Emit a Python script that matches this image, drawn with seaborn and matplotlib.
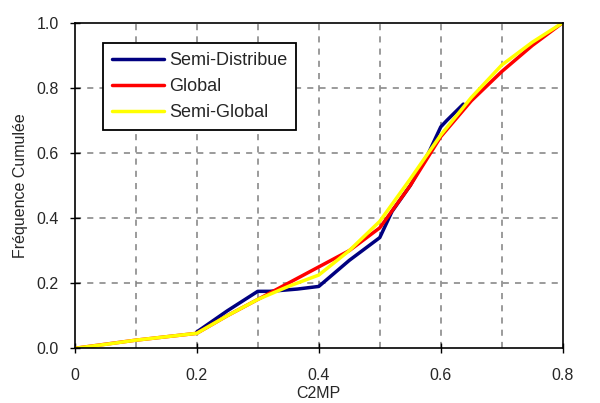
import matplotlib
matplotlib.use("Agg")
import matplotlib.pyplot as plt
import seaborn as sns
import pandas as pd

# values
x_semi_dist = [0.2, 0.25, 0.3, 0.32, 0.365, 0.4, 0.45, 0.5, 0.52, 0.55, 0.58, 0.6, 0.61, 0.637]
y_semi_dist = [0.05, 0.115, 0.175, 0.175, 0.182, 0.19, 0.27, 0.34, 0.42, 0.5, 0.6, 0.68, 0.7, 0.75]

x_global = [0.0, 0.1, 0.2, 0.25, 0.3, 0.35, 0.4, 0.45, 0.5, 0.55, 0.6, 0.65, 0.7, 0.75, 0.8]
y_global = [0.0, 0.025, 0.046, 0.1, 0.15, 0.2, 0.25, 0.3, 0.37, 0.5, 0.65, 0.76, 0.85, 0.93, 1.0]

x_semi_glob = [0.0, 0.05, 0.1, 0.2, 0.25, 0.3, 0.35, 0.4, 0.45, 0.5, 0.55, 0.6, 0.65, 0.7, 0.75, 0.8]
y_semi_glob = [0.0, 0.012, 0.025, 0.046, 0.1, 0.15, 0.19, 0.225, 0.3, 0.39, 0.52, 0.655, 0.77, 0.87, 0.94, 1.0]

x_ticks = [0, 0.2, 0.4, 0.6, 0.8]
x_labels = ["0", "0.2", "0.4", "0.6", "0.8"]
y_ticks = [0.0, 0.2, 0.4, 0.6, 0.8, 1.0]
y_labels = ["0.0", "0.2", "0.4", "0.6", "0.8", "1.0"]

sns.set_style("white")
plt.rcParams['font.family'] = ['Liberation Sans', 'DejaVu Sans']

fig = plt.figure(figsize=(6, 4.03), dpi=100)
ax = fig.add_axes([0.1245, 0.1357, 0.8135, 0.808])

# grid first so lines sit on top
for gx in [0.1, 0.2, 0.3, 0.4, 0.5, 0.6, 0.7]:
    ax.axvline(gx, color="#808080", lw=1.1, ls=(0, (4, 4)), zorder=0)
for gy in [0.2, 0.4, 0.6, 0.8]:
    ax.axhline(gy, color="#808080", lw=1.1, ls=(0, (4, 4)), zorder=0)

sns.lineplot(x=x_semi_dist, y=y_semi_dist, ax=ax, color="#000080", lw=2.5,
             label="Semi-Distribue", sort=False)
sns.lineplot(x=x_global, y=y_global, ax=ax, color="#ff0000", lw=2.5,
             label="Global", sort=False)
sns.lineplot(x=x_semi_glob, y=y_semi_glob, ax=ax, color="#ffff00", lw=2.5,
             label="Semi-Global", sort=False)

ax.set_xlim(0, 0.8)
ax.set_ylim(0, 1.0)
ax.set_xticks(x_ticks)
ax.set_xticklabels(x_labels)
ax.set_yticks(y_ticks)
ax.set_yticklabels(y_labels)
ax.tick_params(axis="both", direction="inout", length=7, width=1, color="black",
               labelsize=11.5, bottom=True, left=True)
ax.tick_params(axis="x", pad=11)
ax.tick_params(axis="y", pad=8)
ax.set_xlabel("C2MP", fontsize=11.5, labelpad=2)
ax.set_ylabel("Fréquence Cumulée", fontsize=11.5, labelpad=6)

for s in ax.spines.values():
    s.set_color("black")
    s.set_linewidth(1.2)
    s.set_visible(True)

leg = ax.legend(loc="upper left", bbox_to_anchor=(0.058, 0.938), borderaxespad=0,
                fontsize=13, frameon=True, fancybox=False, edgecolor="black",
                handlelength=2.9, handletextpad=0.25, labelspacing=0.5,
                borderpad=0.5)
leg.get_frame().set_linewidth(1.3)
leg.get_frame().set_alpha(1)

fig.savefig("out.png", dpi=100)
